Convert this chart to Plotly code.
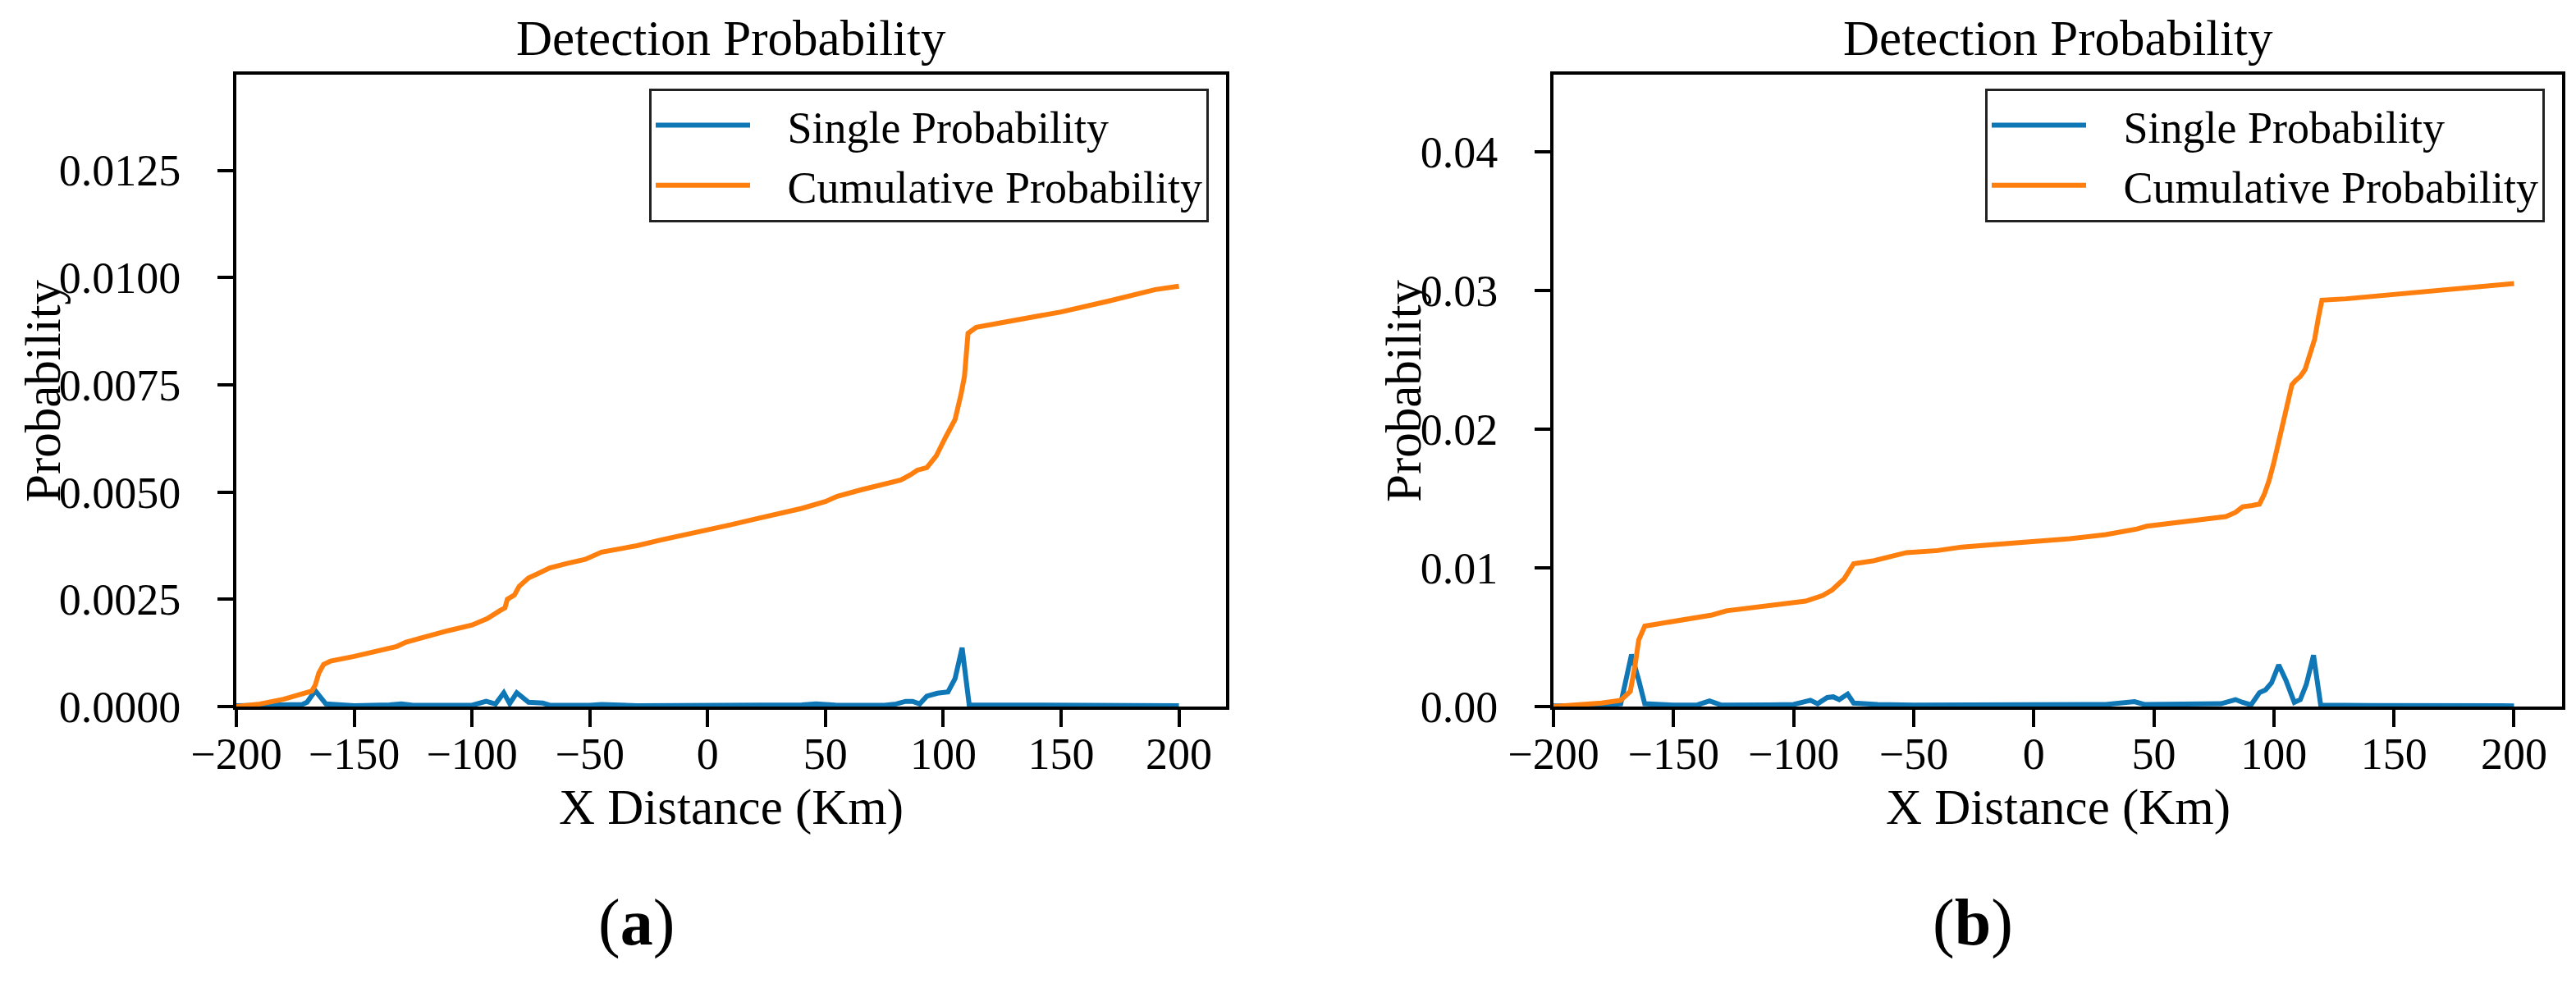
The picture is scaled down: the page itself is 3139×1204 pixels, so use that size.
import plotly.graph_objects as go

# ---- data ----
x_cum_a = [-200, -190, -180, -172, -168, -166.5, -165, -163, -160, -150, -140, -132, -128,
           -120, -110, -100, -97, -93.5, -88, -86, -85, -82, -80, -76, -72, -67, -60, -52,
           -45, -38, -30, -20, -10, 0, 10, 20, 30, 40, 50, 55, 65, 75, 82, 86, 89, 93, 97,
           101, 105, 107.5, 109, 110.5, 114, 130, 150, 170, 190, 200]
y_cum_a = [0.0, 0.00006, 0.00017, 0.00028, 0.00036, 0.0005, 0.00078, 0.00098, 0.00106,
           0.00117, 0.00129, 0.0014, 0.0015, 0.00163, 0.00177, 0.0019, 0.00196, 0.00205,
           0.00224, 0.0023, 0.0025, 0.0026, 0.0028, 0.003, 0.0031, 0.00323, 0.00333, 0.00343,
           0.0036, 0.00366, 0.00375, 0.00388, 0.004, 0.0041, 0.00424, 0.00437, 0.0045,
           0.00462, 0.00478, 0.0049, 0.00505, 0.00518, 0.00528, 0.0054, 0.00551, 0.00557,
           0.00584, 0.00628, 0.00669, 0.00727, 0.0077, 0.0087, 0.00884, 0.009, 0.0092,
           0.00945, 0.00972, 0.0098]

x_sgl_a = [-200, -185, -172, -170, -166.5, -162, -150, -135, -130, -125, -110, -100, -94,
           -90, -86.5, -84, -81, -76, -70, -67, -50, -45, -30, 0, 40, 46, 55, 75, 80, 84,
           87, 90, 93, 97.5, 102, 105, 108, 111, 150, 175, 200]
y_sgl_a = [0.00002, 0.00003, 0.00005, 0.0001, 0.00037, 0.00006, 0.00002, 0.00004, 0.00006,
           0.00003, 0.00002, 0.00003, 0.00012, 0.00006, 0.00032, 0.00007, 0.00032, 0.0001,
           0.00008, 0.00003, 0.00003, 0.00005, 0.00002, 0.00002, 0.00004, 0.00006, 0.00003,
           0.00003, 0.00006, 0.00012, 0.00012, 0.00006, 0.00024, 0.00031, 0.00034, 0.00065,
           0.00137, 0.00004, 0.00002, 0.00003, 0.00002]

x_cum_b = [-200, -190, -180, -172, -168, -166, -164.5, -162, -155, -147, -140, -134, -128,
           -118, -107, -100, -95, -88, -84, -79, -75, -67, -60, -53, -40, -30, -15, 0, 15,
           30, 38, 43, 47, 52, 65, 80, 84, 87, 91, 94, 96, 98, 100, 102, 104, 106, 107.5,
           109, 111, 113, 115, 117, 118.5, 120, 130, 150, 170, 180, 200]
y_cum_b = [0.0, 0.0001, 0.00025, 0.00045, 0.0011, 0.003, 0.0048, 0.0058, 0.006, 0.0062,
           0.0064, 0.0066, 0.0069, 0.0071, 0.0073, 0.0075, 0.0076, 0.008, 0.0084, 0.0092,
           0.0103, 0.0105, 0.0108, 0.0111, 0.01125, 0.0115, 0.0117, 0.0119, 0.0121, 0.0124,
           0.0126, 0.0128, 0.013, 0.0131, 0.0134, 0.0137, 0.014, 0.0144, 0.0145, 0.0146,
           0.0153, 0.0163, 0.0176, 0.0192, 0.0205, 0.0222, 0.0232, 0.0235, 0.0238, 0.0243,
           0.0255, 0.0265, 0.028, 0.0293, 0.0294, 0.0297, 0.03, 0.0302, 0.0305]

x_sgl_b = [-200, -180, -172, -167.5, -164.5, -162, -150, -140, -135, -130, -110, -100, -93,
           -90, -86, -83.5, -81, -77.5, -75, -65, -50, 0, 30, 42, 46, 78, 84, 87, 90.5, 94,
           96.5, 99, 102, 105, 108.5, 111, 113.5, 116.5, 119.5, 140, 175, 200]
y_sgl_b = [0.00005, 0.00008, 0.0002, 0.00375, 0.0019, 0.0002, 0.0001, 0.00012, 0.0004,
           0.0001, 0.00012, 0.00015, 0.00045, 0.0002, 0.00065, 0.0007, 0.0005, 0.0009,
           0.00025, 0.00015, 0.0001, 0.00008, 0.00015, 0.00035, 0.00015, 0.0002, 0.0005,
           0.0003, 0.00012, 0.001, 0.0012, 0.0017, 0.003, 0.0019, 0.0003, 0.0005, 0.0016,
           0.0037, 0.0001, 0.00008, 0.0001, 0.00005]

x_ticks = [-200, -150, -100, -50, 0, 50, 100, 150, 200]
y_ticks_a = [0, 0.0025, 0.005, 0.0075, 0.01, 0.0125]
y_ticks_b = [0, 0.01, 0.02, 0.03, 0.04]

BLUE = '#0f77b6'
ORANGE = '#ff7f0e'
FONT = 'Liberation Serif, Times New Roman, serif'
PAD = '\u00a0\u00a0\u00a0'  # gap between legend line and its text

fig = go.Figure()

# panel (a)
fig.add_trace(go.Scatter(x=x_sgl_a, y=y_sgl_a, mode='lines', name=PAD + 'Single Probability',
                         line=dict(color=BLUE, width=6), xaxis='x', yaxis='y', legend='legend'))
fig.add_trace(go.Scatter(x=x_cum_a, y=y_cum_a, mode='lines', name=PAD + 'Cumulative Probability',
                         line=dict(color=ORANGE, width=6), xaxis='x', yaxis='y', legend='legend'))
# panel (b)
fig.add_trace(go.Scatter(x=x_sgl_b, y=y_sgl_b, mode='lines', name=PAD + 'Single Probability',
                         line=dict(color=BLUE, width=6), xaxis='x2', yaxis='y2', legend='legend2'))
fig.add_trace(go.Scatter(x=x_cum_b, y=y_cum_b, mode='lines', name=PAD + 'Cumulative Probability',
                         line=dict(color=ORANGE, width=6), xaxis='x2', yaxis='y2', legend='legend2'))

W, H = 3139, 1204
y_dom = [1 - 853 / H, 1 - 83 / H]

axis_common = dict(
    showline=True, linecolor='black', linewidth=4, mirror=True,
    ticks='outside', tickwidth=4, tickcolor='black',
    showgrid=False, zeroline=False, automargin=False,
    tickfont=dict(family=FONT, size=54, color='black'),
    layer='below traces',
)
legend_common = dict(yanchor='top', xanchor='right', bgcolor='white', bordercolor='#222',
                     borderwidth=3, font=dict(family=FONT, size=54, color='black'),
                     itemwidth=115, tracegroupgap=0)

fig.update_layout(
    template='none',
    width=W, height=H,
    margin=dict(l=0, r=0, t=0, b=0, autoexpand=False),
    paper_bgcolor='white', plot_bgcolor='white',
    font=dict(family=FONT, color='black'),
    xaxis=dict(domain=[280 / W, 1486 / W], range=[-200, 220], tickvals=x_ticks,
               ticklen=21, ticklabelstandoff=-14, anchor='y', **axis_common),
    yaxis=dict(domain=y_dom, range=[0, 0.01473], tickvals=y_ticks_a, tickformat='.4f',
               ticklen=19, ticklabelstandoff=34, anchor='x', **axis_common),
    xaxis2=dict(domain=[1885 / W, 3114 / W], range=[-200, 220], tickvals=x_ticks,
                ticklen=21, ticklabelstandoff=-14, anchor='y2', **axis_common),
    yaxis2=dict(domain=y_dom, range=[0, 0.04556], tickvals=y_ticks_b, tickformat='.2f',
                ticklen=19, ticklabelstandoff=34, anchor='x2', **axis_common),
    legend=dict(x=1465 / W, y=1 - 100 / H, **legend_common),
    legend2=dict(x=3093 / W, y=1 - 100 / H, **legend_common),
    showlegend=True,
)

# titles and axis titles
title_font = dict(family=FONT, size=61, color='black')
for xr, yr in [('x domain', 'y domain'), ('x2 domain', 'y2 domain')]:
    fig.add_annotation(text='Detection Probability', xref=xr, yref=yr, x=0.5, y=1,
                       xanchor='center', yanchor='bottom', yshift=9, showarrow=False,
                       font=title_font)
    fig.add_annotation(text='X Distance (Km)', xref=xr, yref='paper', x=0.5, y=1 - 976 / H,
                       xanchor='center', yanchor='middle', showarrow=False, font=title_font)

for xpix in [44, 1702]:
    fig.add_annotation(text='Probability', xref='paper', yref='paper', x=xpix / W,
                       y=1 - 468 / H, xanchor='center', yanchor='middle', textangle=-90,
                       showarrow=False, font=title_font)

fig.add_annotation(text='(<b>a</b>)', xref='paper', yref='paper', x=767 / W, y=1 - 1116 / H,
                   xanchor='center', yanchor='middle', showarrow=False,
                   font=dict(family=FONT, size=80, color='black'))
fig.add_annotation(text='(<b>b</b>)', xref='paper', yref='paper', x=2396 / W, y=1 - 1116 / H,
                   xanchor='center', yanchor='middle', showarrow=False,
                   font=dict(family=FONT, size=80, color='black'))

fig.write_html('out.html')
